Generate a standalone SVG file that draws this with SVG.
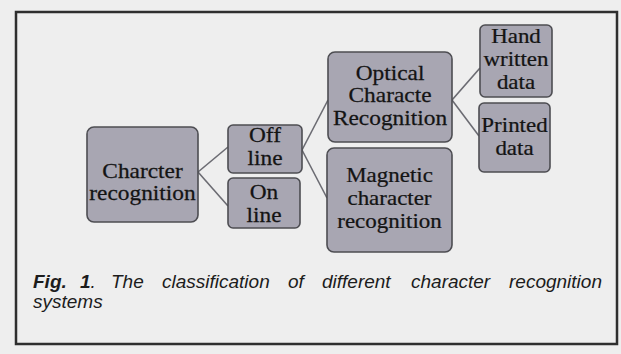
<svg xmlns="http://www.w3.org/2000/svg" width="621" height="354" viewBox="0 0 621 354">
<style>
.bg{fill:#eeeeee}
.frame{fill:none;stroke:#2e2e2e;stroke-width:2.5}
.box{fill:#a8a6b2;stroke:#4d4d52;stroke-width:1.6}
.lbl{font-family:'Liberation Serif','Times New Roman',serif;font-size:20.5px;fill:#141414;stroke:#141414;stroke-width:0.25;text-anchor:middle}
.conn{stroke:#6b6b72;stroke-width:1.6;fill:none}
.cap{font-family:'Liberation Sans',Arial,sans-serif;font-size:19px;font-style:italic;fill:#1c1c1c}
.capb{font-weight:bold}
</style>
<rect class="bg" x="0" y="0" width="621" height="354"/>
<path class="frame" d="M16,344 L16,12 L617,12 L617,344 Z"/>
<g id="connectors">
<line class="conn" x1="198" y1="172" x2="228" y2="147"/>
<line class="conn" x1="198" y1="172" x2="228" y2="206"/>
<line class="conn" x1="302" y1="150" x2="328" y2="100"/>
<line class="conn" x1="302" y1="150" x2="327" y2="198"/>
<line class="conn" x1="452" y1="100" x2="480" y2="68"/>
<line class="conn" x1="452" y1="100" x2="479" y2="136"/>
</g>
<g id="charcter-recognition">
<rect class="box" x="87" y="127" width="111" height="95" rx="7"/>
<g transform="translate(142.5 0) scale(1.14 1)">
<text class="lbl" x="0" y="178">Charcter</text>
<text class="lbl" x="0" y="200.5">recognition</text>
</g>
</g>
<g id="off-line">
<rect class="box" x="228" y="125" width="74" height="48" rx="5"/>
<g transform="translate(265 0) scale(1.14 1)">
<text class="lbl" x="0" y="142">Off</text>
<text class="lbl" x="0" y="165">line</text>
</g>
</g>
<g id="on-line">
<rect class="box" x="228" y="178" width="72" height="50" rx="5"/>
<g transform="translate(264 0) scale(1.14 1)">
<text class="lbl" x="0" y="199">On</text>
<text class="lbl" x="0" y="222">line</text>
</g>
</g>
<g id="optical">
<rect class="box" x="328" y="52" width="124" height="90" rx="7"/>
<g transform="translate(390 0) scale(1.14 1)">
<text class="lbl" x="0" y="80">Optical</text>
<text class="lbl" x="0" y="102.5">Characte</text>
<text class="lbl" x="0" y="125">Recognition</text>
</g>
</g>
<g id="magnetic">
<rect class="box" x="327" y="148" width="125" height="104" rx="7"/>
<g transform="translate(389.5 0) scale(1.12 1)">
<text class="lbl" x="0" y="182">Magnetic</text>
<text class="lbl" x="0" y="205">character</text>
<text class="lbl" x="0" y="228">recognition</text>
</g>
</g>
<g id="hand-written">
<rect class="box" x="480" y="25" width="72" height="72" rx="5"/>
<g transform="translate(516 0) scale(1.12 1)">
<text class="lbl" x="0" y="43.5">Hand</text>
<text class="lbl" x="0" y="66.5">written</text>
<text class="lbl" x="0" y="89.5">data</text>
</g>
</g>
<g id="printed">
<rect class="box" x="479" y="103" width="71" height="69" rx="5"/>
<g transform="translate(514.5 0) scale(1.12 1)">
<text class="lbl" x="0" y="132">Printed</text>
<text class="lbl" x="0" y="155">data</text>
</g>
</g>
<g id="caption">
<text class="cap capb" x="33" y="288">Fig.</text>
<text class="cap capb" x="80" y="288">1</text>
<text class="cap" x="90.5" y="288">.</text>
<text class="cap" x="111" y="288">The</text>
<text class="cap" x="162" y="288">classification</text>
<text class="cap" x="288" y="288">of</text>
<text class="cap" x="322" y="288">different</text>
<text class="cap" x="411" y="288">character</text>
<text class="cap" x="509" y="288">recognition</text>
<text class="cap" x="33" y="308">systems</text>
</g>
</svg>
